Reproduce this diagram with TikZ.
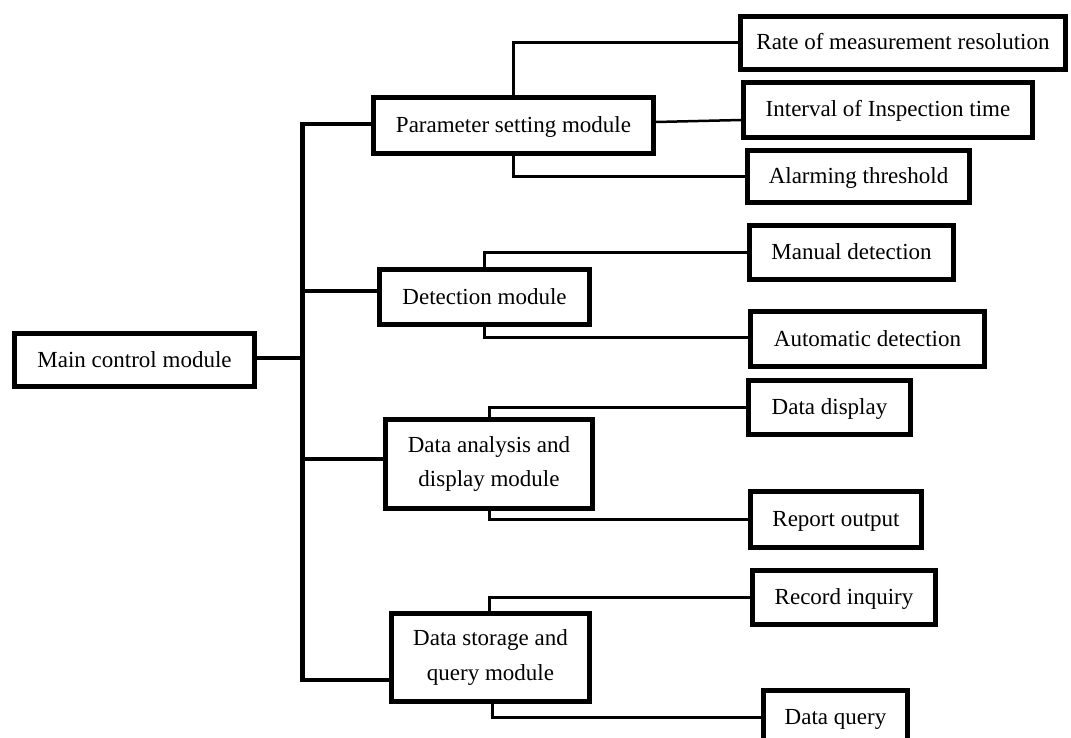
\documentclass[tikz,border=0pt]{standalone}
\usepackage{fontspec}
\setmainfont{Liberation Serif}
\begin{document}
\begin{tikzpicture}[x=1pt,y=-1pt,
  box/.style={draw=black,line width=5pt,fill=white,inner sep=0pt,text height=14pt,text depth=0pt,font=\fontsize{23}{35}\selectfont},
  boxtwo/.style={draw=black,line width=5pt,fill=white,inner sep=0pt,align=center,font=\fontsize{23}{35}\selectfont},
  trunkline/.style={line width=5pt},
  branch/.style={line width=3.5pt},
  sub/.style={line width=3pt}]
\useasboundingbox (0,0) rectangle (1071,738);
% boxes
\node[box,minimum width=240pt,minimum height=53pt] (main) at (134.5,360) {Main control module};
\node[box,minimum width=280pt,minimum height=56pt] (param) at (513.5,125.5) {Parameter setting module};
\node[box,minimum width=325pt,minimum height=53pt] (rate) at (903,43) {Rate of measurement resolution};
\node[box,minimum width=289pt,minimum height=55pt] (interval) at (888,110) {Interval of Inspection time};
\node[box,minimum width=222pt,minimum height=52pt] (alarm) at (858.5,176.5) {Alarming threshold};
\node[box,minimum width=210pt,minimum height=55pt] (detect) at (484.5,297) {Detection module};
\node[box,minimum width=204pt,minimum height=54pt] (manual) at (851.5,252.5) {Manual detection};
\node[box,minimum width=234pt,minimum height=55pt] (auto) at (867.5,339) {Automatic detection};
\node[boxtwo,minimum width=207pt,minimum height=89pt] (analysis) at (489,464) {Data analysis and\\display module};
\node[box,minimum width=162pt,minimum height=54pt] (display) at (829.5,407.5) {Data display};
\node[box,minimum width=171pt,minimum height=56pt] (report) at (836,519.5) {Report output};
\node[boxtwo,minimum width=198pt,minimum height=88pt] (storage) at (490.5,657.5) {Data storage and\\query module};
\node[box,minimum width=183pt,minimum height=54pt] (record) at (844,597.5) {Record inquiry};
\node[box,minimum width=144pt,minimum height=53pt] (query) at (835.5,717) {Data query};
% trunk
\coordinate (ttop) at (302,122.3);
\coordinate (tbot) at (302,681.75);
\coordinate (tm) at (302,358);
\coordinate (t1) at (302,124);
\coordinate (t2) at (302,291);
\coordinate (t3) at (302,459);
\coordinate (t4) at (302,680);
\draw[trunkline] (ttop) -- (tbot);
\draw[branch] (main.east |- tm) -- (tm);
\draw[branch] (t1) -- (t1 -| param.west);
\draw[branch] (t2) -- (t2 -| detect.west);
\draw[branch] (t3) -- (t3 -| analysis.west);
\draw[branch] (t4) -- (t4 -| storage.west);
% sub connectors
\draw[sub] (param.north) |- (rate.west);
\draw[line width=2.5pt] ([yshift=3.5pt]param.east) -- ([yshift=-10pt]interval.west);
\draw[sub] (param.south) |- (alarm.west);
\draw[sub] (detect.north) |- (manual.west);
\draw[sub] (detect.south) |- ([yshift=2pt]auto.west);
\draw[sub] (analysis.north) |- (display.west);
\draw[sub] (analysis.south) |- (report.west);
\draw[sub] ([xshift=-1.5pt]storage.north) |- (record.west);
\draw[sub] ([xshift=1.5pt]storage.south) |- (query.west);
\end{tikzpicture}
\end{document}
